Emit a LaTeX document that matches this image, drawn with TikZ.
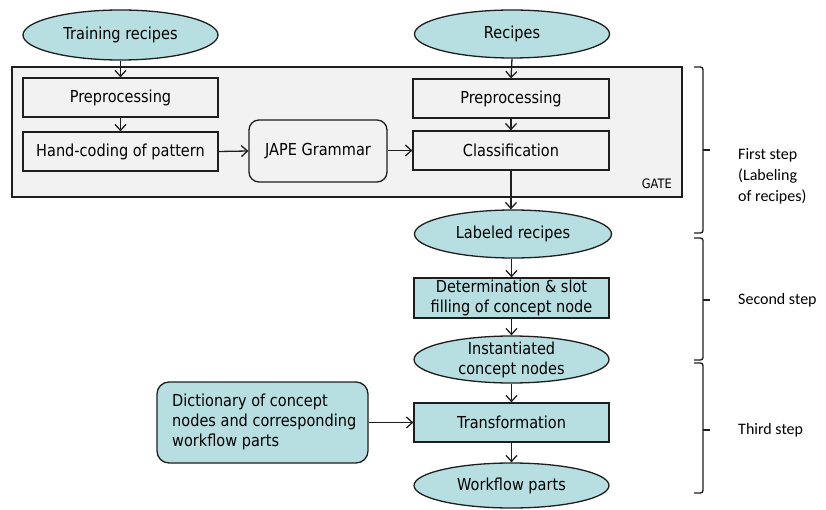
\documentclass[tikz,border=0pt]{standalone}
\usepackage{fontspec}
\usetikzlibrary{shapes.geometric,arrows.meta}
\newfontfamily\boxfont[FakeStretch=0.88]{DejaVu Sans}
\newfontfamily\sidefont{Carlito}
\definecolor{tealfill}{RGB}{183,222,225}
\definecolor{gatefill}{RGB}{242,242,242}
\definecolor{lc}{RGB}{30,30,30}
\begin{document}
\begin{tikzpicture}[x=1pt,y=-1pt,
  base/.style={draw=lc, line width=1.3pt, inner sep=0pt, align=center,
    font=\boxfont\fontsize{16.5}{20}\selectfont},
  gbox/.style={base, rectangle, fill=gatefill, minimum width=195pt, minimum height=39pt},
  tbox/.style={base, rectangle, fill=tealfill, minimum width=195pt, minimum height=39pt},
  ell/.style={base, ellipse, fill=tealfill, minimum width=195pt, minimum height=47pt},
  txt/.style={inner sep=0pt, align=center, font=\boxfont\fontsize{16.5}{20}\selectfont},
  side/.style={inner sep=0pt, anchor=west, align=left, font=\sidefont\fontsize{16}{21}\selectfont},
  arr/.style={draw=lc, line width=1.3pt, -{Straight Barb[length=6pt,width=11pt]}},
  brace/.style={draw=lc, line width=1.3pt, rounded corners=2.5pt}
]
\useasboundingbox (0,0) rectangle (826,510);

% GATE frame
\node[draw=lc, line width=1.3pt, fill=gatefill, minimum width=670pt, minimum height=130pt, inner sep=0pt] (gate) at (347,132) {};
\node[inner sep=0pt, font=\boxfont\fontsize{13}{15}\selectfont, anchor=east] (gatelbl) at (672,184) {GATE};

% top ellipses
\node[ell, minimum height=50pt] (tr) at (120.5,35) {};
\node[txt] (trt) at (tr) {Training recipes};
\node[ell, minimum height=48pt] (rc) at (512,34) {};
\node[txt] (rct) at (rc) {Recipes};

% inside GATE
\node[gbox] (pl) at (120.5,97.5) {Preprocessing};
\node[gbox] (hc) at (120.5,151.5) {Hand-coding of pattern};
\node[base, rectangle, rounded corners=10pt, fill=gatefill, minimum width=138pt, minimum height=62pt] (jape) at (318,151) {JAPE Grammar};
\node[gbox, minimum width=196pt] (pr) at (511,98.5) {Preprocessing};
\node[gbox, minimum width=196pt] (cl) at (511,150.5) {Classification};

% lower chain
\node[ell, minimum width=197pt, minimum height=48pt] (lr) at (513,234) {};
\node[txt] (lrt) at (lr) {Labeled recipes};
\node[tbox, minimum height=40pt] (det) at (511.5,298) {Determination \& slot\\filling of concept node};
\node[ell] (inst) at (511.5,359.5) {};
\node[txt] (instt) at (inst) {Instantiated\\concept nodes};
\node[tbox] (tf) at (511.5,422.5) {Transformation};
\node[ell, minimum height=45pt] (wp) at (511.5,485.5) {};
\node[txt] (wpt) at (wp) {Workflow parts};
\node[base, rectangle, rounded corners=12pt, fill=tealfill, minimum width=211pt, minimum height=81pt] (dict) at (262.5,422.5) {};
\node[txt, align=left, anchor=west] (dictt) at (172,422) {Dictionary of concept\\nodes and corresponding\\workflow parts};

% arrows
\draw[arr] (tr.south) -- (pl.north);
\draw[arr] (pl.south) -- (hc.north);
\draw[arr] (hc.east) -- (jape.west);
\draw[arr] (jape.east |- cl.west) -- (cl.west);
\draw[arr] (rc.south) -- (pr.north);
\draw[arr] (pr.south) -- (cl.north);
\draw[arr] (cl.south) -- (lr.north -| cl.south);
\draw[arr] (lr.south -| det.north) -- (det.north);
\draw[arr] (det.south) -- (inst.north);
\draw[arr] (inst.south) -- (tf.north);
\draw[arr] (tf.south) -- (wp.north);
\draw[arr] (dict.east) -- (tf.west);

% braces
\coordinate (b1t) at (694,67);  \coordinate (b1m) at (703,150); \coordinate (b1b) at (694,233);
\coordinate (b2t) at (694,238); \coordinate (b2m) at (703,300); \coordinate (b2b) at (694,360);
\coordinate (b3t) at (694,363); \coordinate (b3m) at (703,430); \coordinate (b3b) at (694,493);
\foreach \t/\m/\b in {b1t/b1m/b1b, b2t/b2m/b2b, b3t/b3m/b3b}{
  \draw[brace] (\t) -| (\m) |- (\b);
  \draw[draw=lc, line width=1.3pt] (\m) -- ++(7,0);
}
\node[side] (s1) at (738,176) {First step\\(Labeling\\of recipes)};
\node[side] (s2) at (738,300) {Second step};
\node[side] (s3) at (738,430) {Third step};
\end{tikzpicture}
\end{document}
